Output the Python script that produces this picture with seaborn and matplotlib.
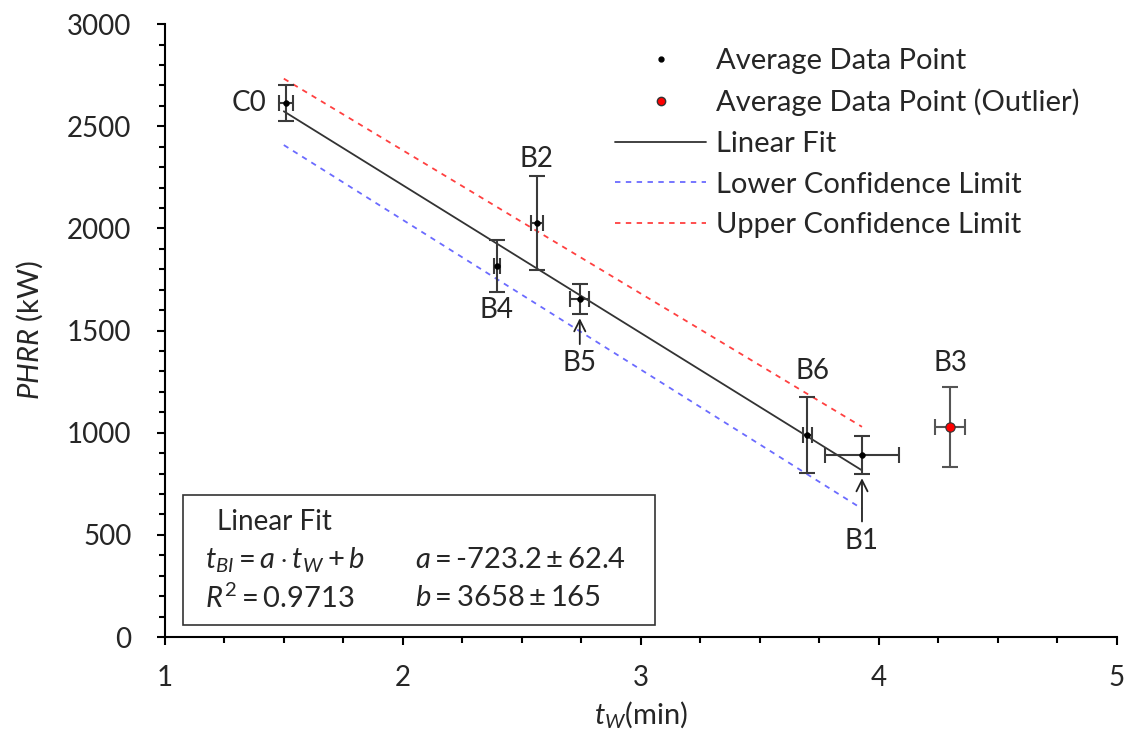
import numpy as np
import pandas as pd
import matplotlib
matplotlib.use("Agg")
import matplotlib.pyplot as plt
import seaborn as sns
from matplotlib.ticker import MultipleLocator
from matplotlib.lines import Line2D

# dados
ensaios = ["C0", "B4", "B2", "B5", "B6", "B1"]
tw = [1.508, 2.395, 2.563, 2.744, 3.70, 3.93]
phrr = [2614, 1816, 2026, 1654, 989, 891]
tw_err = [0.03, 0.012, 0.025, 0.04, 0.02, 0.155]
phrr_err = [90, 125, 230, 75, 185, 93]

outlier_nome = "B3"
outlier_tw = [4.30]
outlier_phrr = [1028]
outlier_tw_err = [0.065]
outlier_phrr_err = [196]

# ajuste linear e limites de confiança (extremos)
a, b = -723.2, 3658
fit_x = [1.5, 3.93]
ic_x = [1.5, 3.93]
ic_inf = [2408, 628]
ic_sup = [2733, 1029]

sns.set_theme(style="ticks")
plt.rcParams['font.family'] = ['Lato', 'DejaVu Sans']
plt.rcParams['mathtext.fontset'] = 'custom'
plt.rcParams['mathtext.rm'] = 'Lato'
plt.rcParams['mathtext.it'] = 'Lato:italic'

fig = plt.figure(figsize=(11.29, 7.53), dpi=100)
ax = fig.add_axes([0.146, 0.154, 0.843, 0.814])

df = pd.DataFrame({"tw": tw, "phrr": phrr})
df_fit = pd.DataFrame({"x": fit_x, "y": [a * x + b for x in fit_x]})
df_ic = pd.DataFrame({"x": ic_x * 2, "y": ic_inf + ic_sup,
                      "lim": ["inf"] * 2 + ["sup"] * 2})

sns.lineplot(data=df_fit, x="x", y="y", color="#333333", lw=1.3, ax=ax)
sns.lineplot(data=df_ic[df_ic.lim == "inf"], x="x", y="y", color="#6b6bff",
             lw=1.3, ls=(0, (3, 3)), ax=ax)
sns.lineplot(data=df_ic[df_ic.lim == "sup"], x="x", y="y", color="#ff4040",
             lw=1.3, ls=(0, (3, 3)), ax=ax)

ax.errorbar(tw, phrr, xerr=tw_err, yerr=phrr_err, fmt="none", ecolor="#3a3a3a",
            elinewidth=1.5, capsize=6, capthick=1.5)
ax.errorbar(outlier_tw, outlier_phrr, xerr=outlier_tw_err, yerr=outlier_phrr_err,
            fmt="none", ecolor="#555555", elinewidth=1.5, capsize=6, capthick=1.5)

sns.scatterplot(data=df, x="tw", y="phrr", color="black", s=18, edgecolor="black",
                zorder=5, ax=ax)
sns.scatterplot(x=outlier_tw, y=outlier_phrr, color="red", s=45, edgecolor="#333333",
                linewidth=0.8, zorder=5, ax=ax)

# rótulos dos ensaios
fs = 20
ax.text(tw[0] - 0.08, phrr[0], "C0", ha="right", va="center", fontsize=fs)
ax.text(tw[1], phrr[1] - 150, "B4", ha="center", va="top", fontsize=fs)
ax.text(tw[2], phrr[2] + 250, "B2", ha="center", va="bottom", fontsize=fs)
ax.annotate("B5", xy=(tw[3], phrr[3] - 80), xytext=(tw[3], phrr[3] - 250),
            ha="center", va="top", fontsize=fs,
            arrowprops=dict(arrowstyle="->", color="#222222", lw=1.3))
ax.text(tw[4] + 0.02, phrr[4] + 250, "B6", ha="center", va="bottom", fontsize=fs)
ax.annotate("B1", xy=(tw[5], phrr[5] - 100), xytext=(tw[5], phrr[5] - 355),
            ha="center", va="top", fontsize=fs,
            arrowprops=dict(arrowstyle="->", color="#222222", lw=1.3))
ax.text(outlier_tw[0], outlier_phrr[0] + 250, outlier_nome, ha="center",
        va="bottom", fontsize=fs)

# caixa com a equação
caixa = plt.Rectangle((1.076, 59), 1.984, 636, transform=ax.transData, fill=False,
                      edgecolor="#333333", lw=1.2, zorder=3)
ax.add_patch(caixa)
ax.text(1.22, 563, "Linear Fit", fontsize=fs, va="center")
ax.text(1.168, 377, r"$t_{BI}=a\cdot t_W+b$", fontsize=fs + 1, va="center")
ax.text(1.168, 191, r"$R^2=0.9713$", fontsize=fs + 1, va="center")
ax.text(2.05, 377, r"$a=\text{-}723.2\pm62.4$", fontsize=fs + 1, va="center")
ax.text(2.05, 191, r"$b=3658\pm165$", fontsize=fs + 1, va="center")

ax.set_xlim(1, 5)
ax.set_ylim(0, 3000)
ax.xaxis.set_major_locator(MultipleLocator(1))
ax.xaxis.set_minor_locator(MultipleLocator(0.25))
ax.yaxis.set_major_locator(MultipleLocator(500))
ax.yaxis.set_minor_locator(MultipleLocator(100))
ax.tick_params(which="major", length=6, width=1.5, labelsize=20, color="black")
ax.tick_params(which="minor", length=4, width=1.5, color="black")
ax.tick_params(axis="x", pad=14)
ax.tick_params(axis="y", pad=18)
for s in ["left", "bottom"]:
    ax.spines[s].set_linewidth(1.5)
    ax.spines[s].set_color("black")
sns.despine(ax=ax)

ax.set_xlabel(r"$t_W$(min)", fontsize=21, labelpad=6)
ax.set_ylabel(r"$PHRR$ (kW)", fontsize=21, labelpad=16)

handles = [
    Line2D([], [], marker="o", ls="none", color="black", markersize=3.5),
    Line2D([], [], marker="o", ls="none", markerfacecolor="red",
           markeredgecolor="#333333", markersize=6),
    Line2D([], [], color="#333333", lw=1.3),
    Line2D([], [], color="#6b6bff", lw=1.3, ls=(0, (3, 3))),
    Line2D([], [], color="#ff4040", lw=1.3, ls=(0, (3, 3))),
]
labels = ["Average Data Point", "Average Data Point (Outlier)", "Linear Fit",
          "Lower Confidence Limit", "Upper Confidence Limit"]
ax.legend(handles, labels, loc="upper left", bbox_to_anchor=(0.545, 0.936),
          bbox_transform=fig.transFigure, borderaxespad=0, borderpad=0,
          frameon=False, fontsize=21, handlelength=3.1, labelspacing=0.5,
          handletextpad=0.36)

fig.savefig("out.png", dpi=100)
